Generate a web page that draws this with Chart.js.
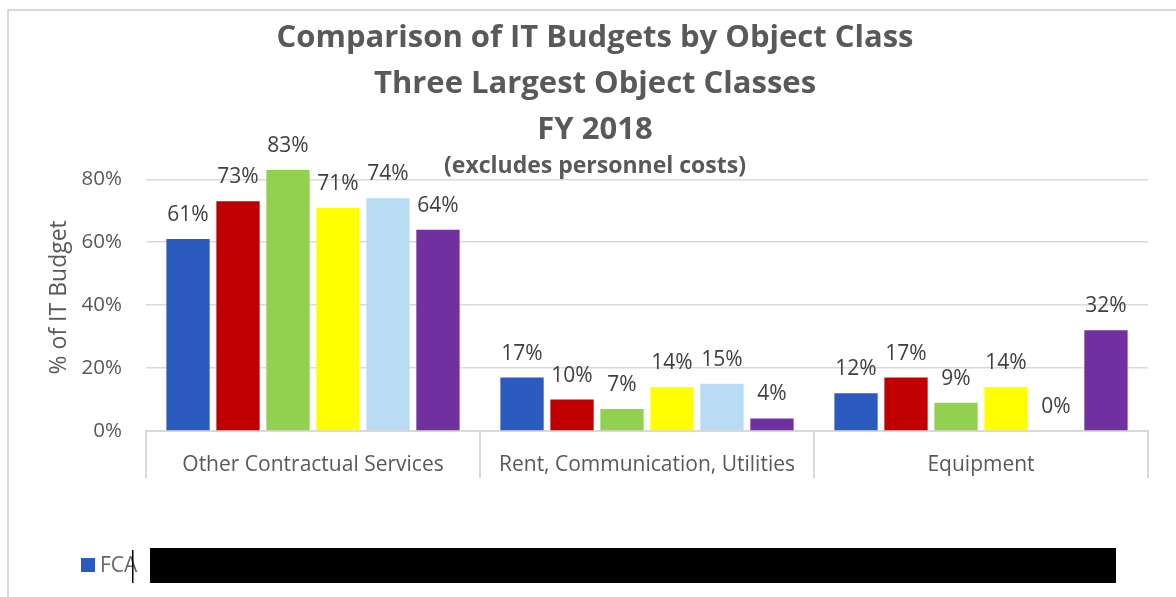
<!DOCTYPE html>
<html>
<head>
<meta charset="utf-8">
<script src="https://cdn.jsdelivr.net/npm/chart.js@4"></script>
<style>
html, body { margin: 0; padding: 0; background: #fff; }
#wrap { position: relative; width: 1176px; height: 597px; overflow: hidden; }
#frame { position: absolute; left: 7px; top: 9px; width: 1300px; height: 700px;
         border-left: 2px solid #d9d9d9; border-top: 2px solid #d9d9d9; }
canvas { position: absolute; left: 0; top: 0; }
</style>
</head>
<body>
<div id="wrap">
  <div id="frame"></div>
  <canvas id="chart" width="1176" height="597"></canvas>
</div>
<script>
// --- данные ---
const categories = ['Other Contractual Services', 'Rent, Communication, Utilities', 'Equipment'];
const seriesNames = ['FCA', 'Series 2', 'Series 3', 'Series 4', 'Series 5', 'Series 6'];
const seriesColors = ['#2B5BBE', '#C00000', '#92D050', '#FFFF00', '#B9DCF5', '#7030A0'];
const fcaValues = [0.61, 0.17, 0.12];
const series2Values = [0.73, 0.10, 0.17];
const series3Values = [0.83, 0.07, 0.09];
const series4Values = [0.71, 0.14, 0.14];
const series5Values = [0.74, 0.15, 0.00];
const series6Values = [0.64, 0.04, 0.32];
const yTicks = [0, 0.2, 0.4, 0.6, 0.8];

const titleLines = ['Comparison of IT Budgets by Object Class', 'Three Largest Object Classes', 'FY 2018'];
const subtitleText = '(excludes personnel costs)';

const FONT = "'Open Sans', sans-serif";
const TEXT = '#595959';
const GRID = '#d9d9d9';

const allValues = [fcaValues, series2Values, series3Values, series4Values, series5Values, series6Values];

// --- подписи над столбцами ---
const barLabels = {
    id: 'barLabels',
    afterDatasetsDraw(chart) {
        const ctx = chart.ctx;
        ctx.save();
        ctx.font = '21px ' + FONT;
        ctx.fillStyle = '#404040';
        ctx.textAlign = 'center';
        ctx.textBaseline = 'middle';
        chart.data.datasets.forEach((ds, i) => {
            chart.getDatasetMeta(i).data.forEach((bar, j) => {
                ctx.fillText(Math.round(ds.data[j] * 100) + '%', bar.x, bar.y - 24);
            });
        });
        ctx.restore();
    }
};

// --- заголовок, легенда и чёрная плашка ---
const decorations = {
    id: 'decorations',
    afterDraw(chart) {
        const ctx = chart.ctx;
        ctx.save();
        ctx.fillStyle = TEXT;
        ctx.textAlign = 'center';
        ctx.textBaseline = 'middle';
        ctx.font = 'bold 31px ' + FONT;
        titleLines.forEach((line, i) => ctx.fillText(line, 595, 38 + i * 46));
        ctx.font = 'bold 23px ' + FONT;
        ctx.fillText(subtitleText, 595, 166);

        // легенда: видна только первая серия
        ctx.fillStyle = chart.data.datasets[0].backgroundColor;
        ctx.fillRect(81, 558, 14, 14);
        ctx.fillStyle = '#666';
        ctx.textAlign = 'left';
        ctx.font = '21px ' + FONT;
        ctx.fillText(chart.data.datasets[0].label, 100, 566);

        // закрашенная часть легенды
        ctx.fillStyle = '#000';
        ctx.fillRect(150, 548, 966, 35);
        ctx.fillRect(132, 550, 1.5, 33);
        ctx.restore();
    }
};

const chart = new Chart(document.getElementById('chart'), {
    type: 'bar',
    data: {
        labels: categories,
        datasets: seriesNames.map((name, i) => ({
            label: name,
            data: allValues[i],
            backgroundColor: seriesColors[i],
            borderWidth: 0,
            categoryPercentage: 0.898,
            barPercentage: 0.866
        }))
    },
    options: {
        responsive: false,
        animation: false,
        layout: { padding: { left: 8, right: 28, top: 163.6, bottom: 0 } },
        plugins: {
            legend: { display: false },
            title: { display: false },
            tooltip: { enabled: false }
        },
        scales: {
            x: {
                offset: true,
                grid: {
                    offset: true,
                    drawOnChartArea: false,
                    drawTicks: true,
                    tickLength: 47,
                    color: GRID,
                    lineWidth: 2
                },
                border: { display: true, color: GRID, width: 2 },
                ticks: {
                    color: TEXT,
                    font: { family: FONT, size: 21 },
                    padding: -26,
                    maxRotation: 0
                },
                afterFit(scale) { scale.height = 166; }
            },
            y: {
                min: 0,
                max: 0.85,
                afterBuildTicks(scale) {
                    scale.ticks = yTicks.map(v => ({ value: v }));
                },
                grid: { color: GRID, lineWidth: 1.5, drawTicks: false },
                border: { display: false },
                ticks: {
                    color: TEXT,
                    font: { family: FONT, size: 20.5 },
                    padding: 24,
                    callback: v => Math.round(v * 100) + '%'
                },
                title: {
                    display: true,
                    text: '% of IT Budget',
                    color: TEXT,
                    font: { family: FONT, size: 23 },
                    padding: { top: 38, bottom: 0 }
                },
                afterFit(scale) { scale.width = 138; }
            }
        }
    },
    plugins: [barLabels, decorations]
});
</script>
</body>
</html>
